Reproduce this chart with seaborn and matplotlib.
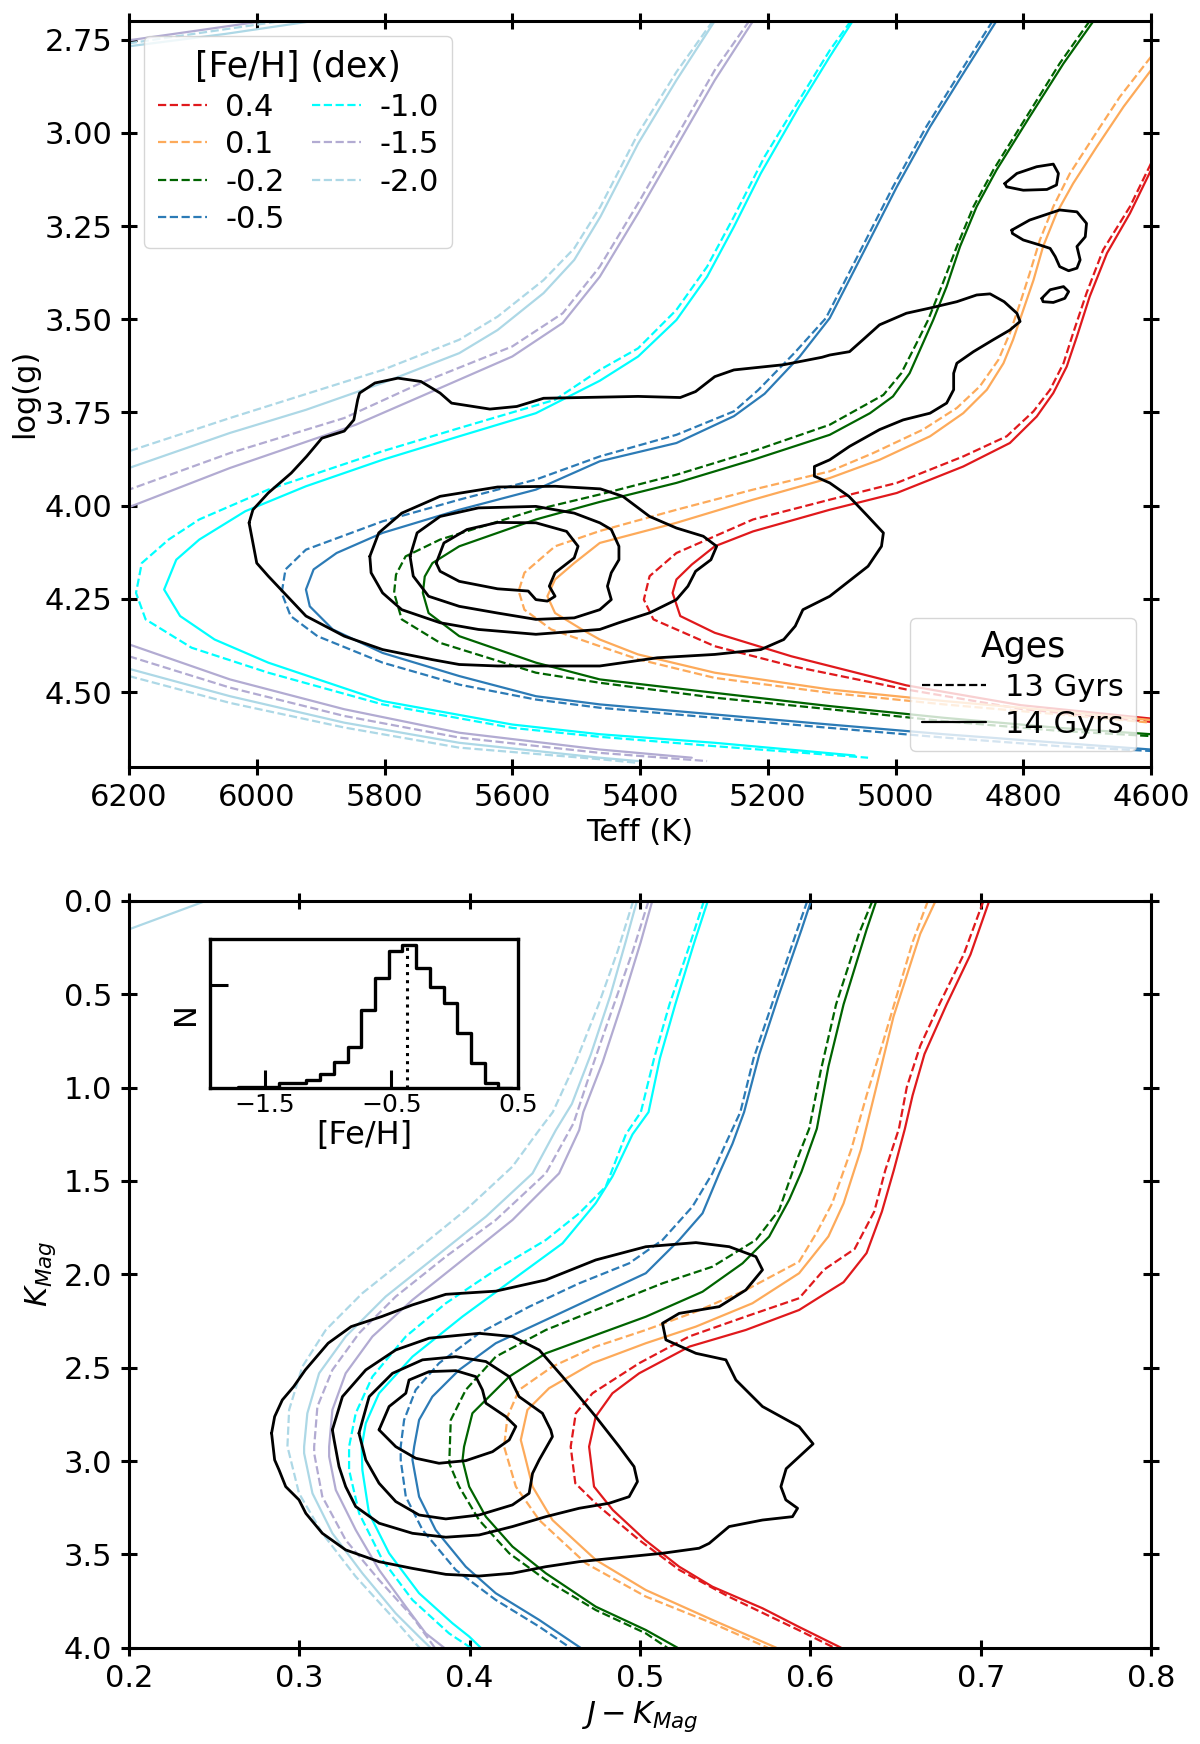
import matplotlib
matplotlib.use("Agg")
import matplotlib.pyplot as plt
from matplotlib.lines import Line2D
from matplotlib.ticker import FormatStrFormatter
import numpy as np
import seaborn as sns

# metallicity grid and colours of the isochrones
FEH_LABELS = ["0.4", "0.1", "-0.2", "-0.5", "-1.0", "-1.5", "-2.0"]
FEH_COLORS = ["#e0191c", "#fdaa5a", "darkgreen", "#2c7bb6", "cyan", "#b2abd2", "lightblue"]
AGE_LABELS = ["13 Gyrs", "14 Gyrs"]

# ---- top panel: isochrones in (Teff, logg) ----
TOP_P04_14 = [(4600, 3.10), (4633, 3.216), (4669, 3.323), (4696, 3.439), (4716, 3.546), (4732, 3.627),
              (4753, 3.698), (4779, 3.761), (4821, 3.832), (4894, 3.895), (4998, 3.966), (5103, 4.011),
              (5223, 4.069), (5283, 4.109), (5319, 4.158), (5343, 4.198), (5349, 4.234), (5337, 4.296),
              (5283, 4.341), (5163, 4.404), (4983, 4.482), (4804, 4.535), (4600, 4.571)]
TOP_P04_13 = [(4600, 3.082), (4633, 3.198), (4675, 3.314), (4701, 3.43), (4722, 3.5375), (4737, 3.618),
              (4758, 3.689), (4784, 3.747), (4826, 3.814), (4894, 3.868), (4998, 3.939), (5103, 3.984),
              (5223, 4.037), (5283, 4.082), (5343, 4.127), (5385, 4.189), (5394, 4.252), (5379, 4.305),
              (5283, 4.377), (5163, 4.43), (4983, 4.493), (4804, 4.545), (4600, 4.58)]
TOP_P01_14 = [(4600, 2.832), (4643, 2.93), (4685, 3.0375), (4722, 3.136), (4748, 3.216), (4769, 3.305),
              (4784, 3.395), (4800, 3.475), (4816, 3.555), (4831, 3.618), (4857, 3.689), (4894, 3.752),
              (4946, 3.814), (5025, 3.877), (5103, 3.926), (5223, 3.984), (5343, 4.046), (5463, 4.10),
              (5503, 4.154), (5533, 4.198), (5545, 4.243), (5533, 4.288), (5491, 4.332), (5463, 4.359),
              (5403, 4.399), (5283, 4.448), (5103, 4.493), (4924, 4.524), (4744, 4.551), (4600, 4.575)]
TOP_P01_13 = [(4600, 2.796), (4649, 2.904), (4690, 3.011), (4727, 3.109), (4753, 3.198), (4774, 3.2875),
              (4790, 3.377), (4805, 3.457), (4821, 3.5375), (4839, 3.609), (4868, 3.68), (4904, 3.738),
              (4957, 3.796), (5035, 3.859), (5103, 3.908), (5223, 3.957), (5343, 4.011), (5463, 4.068),
              (5533, 4.109), (5581, 4.18), (5590, 4.229), (5581, 4.279), (5539, 4.332), (5463, 4.377),
              (5403, 4.412), (5283, 4.462), (5103, 4.502), (4924, 4.533), (4744, 4.56), (4600, 4.582)]
TOP_M02_14 = [(4690, 2.70), (4737, 2.814), (4790, 2.957), (4842, 3.10), (4873, 3.198), (4899, 3.305),
              (4920, 3.4125), (4941, 3.502), (4957, 3.564), (4978, 3.645), (5004, 3.707), (5040, 3.752),
              (5103, 3.81), (5223, 3.877), (5343, 3.939), (5463, 3.99), (5563, 4.037), (5683, 4.109),
              (5725, 4.154), (5737, 4.19), (5740, 4.234), (5731, 4.288), (5683, 4.35), (5563, 4.421),
              (5463, 4.466), (5283, 4.502), (5103, 4.5375), (4924, 4.569), (4744, 4.596), (4600, 4.613)]
TOP_M02_13 = [(4696, 2.70), (4743, 2.814), (4795, 2.957), (4847, 3.10), (4878, 3.198), (4904, 3.305),
              (4928, 3.4125), (4949, 3.502), (4967, 3.564), (4991, 3.645), (5019, 3.703), (5061, 3.743),
              (5103, 3.783), (5223, 3.854), (5343, 3.917), (5463, 3.97), (5563, 4.011), (5713, 4.091),
              (5767, 4.136), (5782, 4.185), (5785, 4.234), (5773, 4.305), (5713, 4.368), (5563, 4.448),
              (5463, 4.475), (5283, 4.515), (5103, 4.546), (4924, 4.578), (4744, 4.604), (4600, 4.618)]
TOP_M05_14 = [(4842, 2.70), (4894, 2.841), (4946, 2.984), (4998, 3.145), (5051, 3.323), (5103, 3.497),
              (5150, 3.60), (5205, 3.70), (5253, 3.76), (5343, 3.832), (5463, 3.881), (5563, 3.957),
              (5683, 4.011), (5803, 4.073), (5875, 4.127), (5911, 4.171), (5923, 4.225), (5917, 4.27),
              (5881, 4.332), (5803, 4.395), (5683, 4.457), (5563, 4.511), (5463, 4.533), (5283, 4.56),
              (5103, 4.587), (4924, 4.613), (4744, 4.636), (4600, 4.654)]
TOP_M05_13 = [(4848, 2.70), (4900, 2.841), (4952, 2.984), (5004, 3.145), (5057, 3.323), (5109, 3.497),
              (5158, 3.59), (5215, 3.69), (5253, 3.747), (5343, 3.81), (5463, 3.868), (5563, 3.93),
              (5683, 3.984), (5803, 4.042), (5923, 4.118), (5955, 4.171), (5961, 4.234), (5947, 4.296),
              (5905, 4.35), (5803, 4.421), (5683, 4.48), (5563, 4.52), (5463, 4.542), (5283, 4.569),
              (5103, 4.596), (4924, 4.622), (4744, 4.645), (4600, 4.658)]
TOP_M10_14 = [(5067, 2.70), (5103, 2.796), (5151, 2.93), (5211, 3.109), (5253, 3.252), (5295, 3.386),
              (5343, 3.502), (5403, 3.60), (5463, 3.665), (5563, 3.752), (5683, 3.814), (5803, 3.877),
              (5923, 3.948), (6018, 4.015), (6090, 4.091), (6126, 4.145), (6145, 4.225), (6120, 4.296),
              (6066, 4.359), (5982, 4.421), (5803, 4.524), (5600, 4.587), (5463, 4.613), (5283, 4.636),
              (5064, 4.67)]
TOP_M10_13 = [(5070, 2.70), (5103, 2.779), (5151, 2.9125), (5205, 3.064), (5253, 3.225), (5295, 3.359),
              (5343, 3.475), (5403, 3.578), (5463, 3.636), (5533, 3.716), (5683, 3.792), (5803, 3.854),
              (5982, 3.957), (6090, 4.037), (6138, 4.091), (6180, 4.154), (6189, 4.234), (6174, 4.305),
              (6102, 4.381), (5982, 4.448), (5803, 4.533), (5600, 4.596), (5463, 4.62), (5283, 4.645),
              (5043, 4.676)]
# the metal-poor turnoffs lie beyond 6200 K, so the two branches are kept apart
TOP_M15_14_UP = [(5223, 2.70), (5283, 2.859), (5343, 3.0375), (5403, 3.216), (5463, 3.386), (5521, 3.51),
                 (5600, 3.60), (5743, 3.707), (5845, 3.783), (6042, 3.899), (6200, 4.004)]
TOP_M15_14_LO = [(6200, 4.372), (6042, 4.466), (5863, 4.546), (5683, 4.609), (5463, 4.654), (5319, 4.676)]
TOP_M15_13_UP = [(5229, 2.70), (5283, 2.832), (5343, 3.011), (5403, 3.189), (5463, 3.359), (5521, 3.484),
                 (5600, 3.573), (5743, 3.671), (5863, 3.765), (6042, 3.859), (6200, 3.957)]
TOP_M15_13_LO = [(6200, 4.404), (6042, 4.488), (5863, 4.564), (5683, 4.622), (5463, 4.663), (5295, 4.685)]
TOP_M20_14_UP = [(5283, 2.70), (5343, 2.859), (5403, 3.029), (5462, 3.225), (5503, 3.341), (5551, 3.43),
                 (5623, 3.529), (5683, 3.591), (5803, 3.671), (5923, 3.743), (6042, 3.805), (6200, 3.899)]
TOP_M20_14_LO = [(6200, 4.4375), (6042, 4.511), (5863, 4.582), (5683, 4.636), (5463, 4.676), (5403, 4.685)]
TOP_M20_13_UP = [(5286, 2.70), (5343, 2.837), (5403, 3.002), (5462, 3.198), (5503, 3.31), (5551, 3.395),
                 (5623, 3.493), (5683, 3.555), (5803, 3.636), (6042, 3.765), (6200, 3.854)]
TOP_M20_13_LO = [(6200, 4.457), (6042, 4.529), (5863, 4.595), (5683, 4.649), (5463, 4.68), (5403, 4.69)]
# giant-branch tips re-entering at the top left corner
TOP_TIP_M20_14 = [(6200, 2.768), (6050, 2.735), (5911, 2.70)]
TOP_TIP_M20_13 = [(6200, 2.760), (5960, 2.70)]
TOP_TIP_M15_14 = [(6200, 2.752), (6000, 2.703)]

# ---- top panel: density contours of the sample ----
TOP_C1 = [(6012, 4.046), (6006, 4.011), (5982, 3.966), (5946, 3.9125), (5922, 3.868), (5898, 3.819),
          (5863, 3.80), (5848, 3.77), (5842, 3.716), (5839, 3.698), (5815, 3.671), (5779, 3.658),
          (5743, 3.667), (5713, 3.698), (5695, 3.725), (5635, 3.741), (5593, 3.734), (5551, 3.712),
          (5462, 3.709), (5403, 3.707), (5337, 3.71), (5313, 3.694), (5283, 3.654), (5253, 3.636),
          (5175, 3.622), (5115, 3.602), (5103, 3.596), (5072, 3.587), (5051, 3.555), (5025, 3.515),
          (4983, 3.484), (4946, 3.47), (4904, 3.453), (4873, 3.435), (4852, 3.432), (4830, 3.453),
          (4810, 3.484), (4805, 3.506), (4821, 3.529), (4847, 3.555), (4878, 3.587), (4904, 3.618),
          (4909, 3.645), (4909, 3.689), (4920, 3.725), (4946, 3.752), (4988, 3.77), (5025, 3.796),
          (5072, 3.841), (5103, 3.877), (5127, 3.895), (5127, 3.921), (5103, 3.939), (5073, 3.975),
          (5043, 4.029), (5019, 4.073), (5022, 4.109), (5043, 4.1625), (5103, 4.243), (5145, 4.279),
          (5157, 4.323), (5175, 4.359), (5211, 4.386), (5283, 4.399), (5373, 4.408), (5463, 4.43),
          (5563, 4.43), (5623, 4.43), (5683, 4.426), (5725, 4.413), (5803, 4.386), (5863, 4.35),
          (5923, 4.296), (5982, 4.189), (6000, 4.154), (6006, 4.10), (6012, 4.046)]
TOP_C2 = [(5823, 4.136), (5809, 4.073), (5773, 4.02), (5713, 3.975), (5623, 3.95), (5533, 3.948),
          (5462, 3.955), (5427, 3.975), (5385, 4.029), (5343, 4.06), (5301, 4.082), (5280, 4.109),
          (5289, 4.145), (5313, 4.176), (5325, 4.216), (5343, 4.252), (5385, 4.2875), (5433, 4.314),
          (5463, 4.332), (5563, 4.345), (5653, 4.332), (5713, 4.314), (5773, 4.279), (5803, 4.234),
          (5821, 4.18), (5823, 4.136)]
TOP_C3 = [(5760, 4.136), (5749, 4.073), (5713, 4.029), (5653, 4.006), (5563, 4.002), (5503, 4.02),
          (5463, 4.046), (5445, 4.064), (5433, 4.109), (5433, 4.145), (5445, 4.18), (5451, 4.216),
          (5445, 4.252), (5463, 4.279), (5503, 4.301), (5563, 4.305), (5623, 4.288), (5683, 4.27),
          (5731, 4.243), (5755, 4.189), (5760, 4.136)]
TOP_C4 = [(5719, 4.154), (5707, 4.10), (5671, 4.064), (5623, 4.045), (5563, 4.046), (5515, 4.069),
          (5497, 4.109), (5503, 4.14), (5533, 4.18), (5542, 4.216), (5533, 4.243), (5545, 4.256),
          (5563, 4.252), (5575, 4.229), (5623, 4.223), (5683, 4.203), (5713, 4.176), (5719, 4.154)]
TOP_C5 = [(4829, 3.136), (4810, 3.109), (4779, 3.091), (4753, 3.084), (4745, 3.109), (4748, 3.14),
          (4763, 3.152), (4800, 3.154), (4826, 3.145), (4829, 3.136)]
TOP_C6 = [(4818, 3.261), (4790, 3.234), (4743, 3.207), (4716, 3.212), (4701, 3.243), (4703, 3.279),
          (4716, 3.305), (4711, 3.341), (4716, 3.363), (4729, 3.37), (4743, 3.359), (4750, 3.332),
          (4758, 3.31), (4774, 3.301), (4800, 3.2875), (4817, 3.27), (4818, 3.261)]
TOP_C7 = [(4771, 3.444), (4758, 3.421), (4737, 3.4125), (4729, 3.426), (4735, 3.444), (4753, 3.455),
          (4769, 3.453), (4771, 3.444)]

# ---- bottom panel: isochrones in (J-K, K) ----
BOT_P04_14 = [(0.705, 0.0), (0.694, 0.287), (0.680, 0.554), (0.667, 0.820), (0.660, 1.042), (0.6555, 1.22),
              (0.649, 1.442), (0.642, 1.664), (0.633, 1.886), (0.6195, 2.042), (0.604, 2.13), (0.5934, 2.191),
              (0.5621, 2.298), (0.529, 2.387), (0.4995, 2.53), (0.4838, 2.637), (0.474, 2.762), (0.4701, 2.923),
              (0.473, 3.137), (0.484, 3.262), (0.503, 3.423), (0.523, 3.566), (0.5425, 3.673), (0.572, 3.789),
              (0.593, 3.887), (0.618, 4.0)]
BOT_P04_13 = [(0.7016, 0.0), (0.690, 0.287), (0.6757, 0.554), (0.6645, 0.776), (0.6566, 0.998), (0.652, 1.22),
              (0.644, 1.442), (0.6375, 1.664), (0.626, 1.864), (0.608, 1.975), (0.5934, 2.128), (0.5621, 2.226),
              (0.5288, 2.333), (0.4995, 2.476), (0.4721, 2.637), (0.4623, 2.744), (0.4593, 2.923), (0.462, 3.119),
              (0.476, 3.244), (0.4995, 3.423), (0.523, 3.583), (0.552, 3.726), (0.593, 3.905), (0.614, 4.0)]
BOT_P01_14 = [(0.6735, 0.0), (0.6645, 0.176), (0.6488, 0.62), (0.6375, 1.042), (0.6297, 1.331), (0.6195, 1.62),
              (0.6106, 1.797), (0.5934, 1.994), (0.566, 2.155), (0.5328, 2.28), (0.5034, 2.369), (0.4721, 2.476),
              (0.4466, 2.61), (0.4339, 2.726), (0.430, 2.887), (0.432, 2.958), (0.4369, 3.137), (0.4486, 3.316),
              (0.4741, 3.53), (0.5034, 3.691), (0.5425, 3.851), (0.580, 4.0)]
BOT_P01_13 = [(0.669, 0.0), (0.660, 0.221), (0.642, 0.776), (0.633, 1.042), (0.624, 1.331), (0.6128, 1.62),
              (0.6038, 1.775), (0.5934, 1.932), (0.5621, 2.084), (0.5328, 2.2), (0.5034, 2.298), (0.474, 2.387),
              (0.4486, 2.494), (0.429, 2.619), (0.4222, 2.762), (0.4202, 2.923), (0.4271, 3.137), (0.4408, 3.316),
              (0.4682, 3.548), (0.5034, 3.726), (0.5425, 3.869), (0.575, 4.0)]
BOT_M02_14 = [(0.6387, 0.0), (0.633, 0.154), (0.6195, 0.554), (0.6106, 0.887), (0.6038, 1.22), (0.5948, 1.45),
              (0.5876, 1.60), (0.5758, 1.798), (0.5602, 1.941), (0.5367, 2.093), (0.5034, 2.227), (0.474, 2.325),
              (0.4447, 2.423), (0.4232, 2.548), (0.4016, 2.744), (0.3967, 2.923), (0.3958, 2.994), (0.3997, 3.137),
              (0.4095, 3.298), (0.4251, 3.458), (0.4447, 3.601), (0.474, 3.78), (0.5034, 3.905), (0.522, 4.0)]
BOT_M02_13 = [(0.6364, 0.0), (0.6285, 0.176), (0.6151, 0.554), (0.6061, 0.909), (0.5993, 1.22), (0.5915, 1.40),
              (0.5817, 1.655), (0.568, 1.816), (0.5425, 1.959), (0.5132, 2.048), (0.4838, 2.155), (0.4447, 2.298),
              (0.4153, 2.441), (0.3977, 2.619), (0.3889, 2.78), (0.388, 3.012), (0.3938, 3.137), (0.4055, 3.316),
              (0.4232, 3.494), (0.4447, 3.637), (0.474, 3.798), (0.5034, 3.923), (0.516, 4.0)]
BOT_M05_14 = [(0.6004, 0.0), (0.5948, 0.154), (0.5813, 0.509), (0.5701, 0.82), (0.5611, 1.131), (0.5543, 1.30),
              (0.5465, 1.459), (0.5367, 1.673), (0.523, 1.816), (0.5034, 1.994), (0.474, 2.119), (0.4447, 2.244),
              (0.4153, 2.369), (0.3938, 2.512), (0.3781, 2.655), (0.3703, 2.78), (0.3674, 2.923), (0.3664, 2.994),
              (0.3703, 3.191), (0.380, 3.369), (0.3977, 3.566), (0.4153, 3.708), (0.4408, 3.851), (0.465, 4.0)]
BOT_M05_13 = [(0.5982, 0.0), (0.5915, 0.176), (0.5791, 0.509), (0.5667, 0.842), (0.5589, 1.131), (0.5504, 1.298),
              (0.5425, 1.459), (0.5308, 1.637), (0.5132, 1.816), (0.4936, 1.941), (0.4643, 2.048), (0.435, 2.173),
              (0.4055, 2.316), (0.382, 2.476), (0.3683, 2.619), (0.3615, 2.78), (0.3595, 2.923), (0.3595, 2.994),
              (0.3625, 3.191), (0.3723, 3.369), (0.3918, 3.583), (0.4153, 3.744), (0.4408, 3.887), (0.459, 4.0)]
BOT_M10_14 = [(0.5398, 0.0), (0.5319, 0.221), (0.5207, 0.554), (0.5117, 0.842), (0.505, 1.131), (0.4956, 1.25),
              (0.4838, 1.476), (0.474, 1.619), (0.4545, 1.834), (0.4251, 2.03), (0.3958, 2.226), (0.3664, 2.441),
              (0.3468, 2.637), (0.339, 2.798), (0.3366, 2.923), (0.337, 3.048), (0.3409, 3.28), (0.3527, 3.494),
              (0.3703, 3.708), (0.3899, 3.869), (0.3997, 3.94), (0.4065, 4.0)]
BOT_M10_13 = [(0.5375, 0.0), (0.5297, 0.221), (0.5173, 0.554), (0.5083, 0.842), (0.5005, 1.131), (0.4917, 1.25),
              (0.4799, 1.53), (0.4643, 1.673), (0.4447, 1.816), (0.4153, 1.976), (0.386, 2.155), (0.3625, 2.333),
              (0.3429, 2.548), (0.3331, 2.744), (0.3292, 2.923), (0.3292, 3.048), (0.3351, 3.28), (0.3488, 3.53),
              (0.3664, 3.744), (0.3879, 3.923), (0.4006, 4.0)]
BOT_M15_14 = [(0.5072, 0.0), (0.5004, 0.221), (0.4892, 0.554), (0.478, 0.865), (0.4667, 1.131), (0.4643, 1.227),
              (0.4525, 1.459), (0.4251, 1.709), (0.3958, 1.923), (0.3664, 2.137), (0.3429, 2.333), (0.3272, 2.53),
              (0.3194, 2.726), (0.3175, 2.923), (0.3175, 2.976), (0.3214, 3.155), (0.3331, 3.369), (0.3468, 3.583),
              (0.3625, 3.78), (0.3742, 3.923), (0.385, 4.0)]
BOT_M15_13 = [(0.505, 0.0), (0.4959, 0.265), (0.4847, 0.554), (0.4712, 0.909), (0.461, 1.19), (0.4447, 1.459),
              (0.4153, 1.709), (0.386, 1.905), (0.3566, 2.119), (0.3351, 2.315), (0.3194, 2.512), (0.3106, 2.708),
              (0.3087, 2.923), (0.3087, 2.958), (0.3135, 3.191), (0.3272, 3.423), (0.3468, 3.637), (0.3664, 3.834),
              (0.3795, 4.0)]
BOT_M20_14 = [(0.4982, 0.0), (0.4915, 0.221), (0.4825, 0.509), (0.4712, 0.82), (0.460, 1.087), (0.4506, 1.227),
              (0.4369, 1.459), (0.4095, 1.691), (0.3801, 1.905), (0.3507, 2.119), (0.3272, 2.333), (0.3116, 2.53),
              (0.3047, 2.744), (0.3028, 2.923), (0.3028, 2.958), (0.3077, 3.173), (0.3194, 3.387), (0.337, 3.601),
              (0.3566, 3.816), (0.3703, 3.941), (0.377, 4.0)]
BOT_M20_13 = [(0.496, 0.0), (0.487, 0.265), (0.4757, 0.554), (0.4622, 0.865), (0.4488, 1.131), (0.4408, 1.227),
              (0.4251, 1.423), (0.3977, 1.655), (0.3664, 1.887), (0.337, 2.101), (0.3155, 2.298), (0.3018, 2.494),
              (0.294, 2.726), (0.293, 2.923), (0.294, 2.958), (0.2998, 3.173), (0.3135, 3.387), (0.3331, 3.619),
              (0.3527, 3.816), (0.3705, 4.0)]
BOT_TIP_M20_14 = [(0.2, 0.152), (0.245, 0.0)]

# ---- bottom panel: density contours ----
BOT_C1 = [(0.2837, 2.851), (0.2855, 2.762), (0.290, 2.673), (0.2967, 2.601), (0.3035, 2.512), (0.3169, 2.369),
          (0.3304, 2.28), (0.3484, 2.226), (0.3663, 2.164), (0.386, 2.107), (0.4153, 2.09), (0.4447, 2.03),
          (0.474, 1.923), (0.5034, 1.852), (0.5328, 1.83), (0.5524, 1.852), (0.568, 1.905), (0.5719, 1.976),
          (0.5621, 2.084), (0.5465, 2.173), (0.523, 2.209), (0.5132, 2.262), (0.5152, 2.351), (0.5328, 2.423),
          (0.5504, 2.458), (0.5563, 2.566), (0.5719, 2.708), (0.5934, 2.816), (0.6016, 2.908), (0.5858, 3.041),
          (0.5827, 3.137), (0.5856, 3.208), (0.5925, 3.253), (0.5895, 3.298), (0.5719, 3.316), (0.5523, 3.351),
          (0.5406, 3.441), (0.5347, 3.467), (0.5132, 3.494), (0.4838, 3.521), (0.4643, 3.539), (0.4447, 3.566),
          (0.4251, 3.601), (0.4055, 3.616), (0.386, 3.607), (0.3664, 3.575), (0.3468, 3.539), (0.3272, 3.476),
          (0.3135, 3.387), (0.3038, 3.28), (0.2998, 3.208), (0.292, 3.137), (0.2881, 3.048), (0.2855, 2.994),
          (0.2837, 2.851)]
BOT_C2 = [(0.3194, 2.833), (0.3253, 2.655), (0.339, 2.512), (0.3566, 2.405), (0.3762, 2.342), (0.4055, 2.316),
          (0.4251, 2.333), (0.4408, 2.405), (0.4545, 2.548), (0.4643, 2.655), (0.474, 2.762), (0.4878, 2.923),
          (0.4965, 3.03), (0.4985, 3.11), (0.4936, 3.191), (0.4819, 3.226), (0.4643, 3.253), (0.4447, 3.298),
          (0.4251, 3.351), (0.4055, 3.396), (0.386, 3.408), (0.3664, 3.387), (0.3468, 3.333), (0.3331, 3.244),
          (0.3272, 3.137), (0.3233, 3.03), (0.3204, 2.887), (0.3194, 2.833)]
BOT_C3 = [(0.335, 2.851), (0.341, 2.655), (0.3547, 2.53), (0.3723, 2.458), (0.3919, 2.441), (0.4095, 2.467),
          (0.4232, 2.548), (0.429, 2.655), (0.4427, 2.744), (0.4476, 2.834), (0.4486, 2.869), (0.4408, 2.994),
          (0.4369, 3.066), (0.4349, 3.173), (0.4251, 3.235), (0.4055, 3.289), (0.386, 3.31), (0.3703, 3.289),
          (0.3566, 3.217), (0.3468, 3.119), (0.339, 2.994), (0.335, 2.851)]
BOT_C4 = [(0.3468, 2.833), (0.3527, 2.708), (0.3625, 2.637), (0.3644, 2.566), (0.3762, 2.521), (0.3919, 2.516),
          (0.4036, 2.548), (0.4075, 2.619), (0.4095, 2.69), (0.4212, 2.762), (0.4271, 2.815), (0.4232, 2.887),
          (0.4134, 2.95), (0.3977, 2.998), (0.382, 3.012), (0.3683, 2.985), (0.3566, 2.923), (0.3468, 2.833)]

# ---- inset: [Fe/H] distribution ----
FEH_EDGES = [-1.71, -1.602, -1.494, -1.386, -1.278, -1.170, -1.062, -0.954, -0.846, -0.738, -0.630,
             -0.522, -0.414, -0.306, -0.198, -0.090, 0.018, 0.126, 0.234, 0.342, 0.450]
FEH_COUNTS = [3, 3, 3, 10, 10, 16, 27, 52, 81, 152, 214, 267, 278, 233, 197, 165, 107, 49, 10, 0]
FEH_MEDIAN = -0.38


sns.set_style("ticks", rc={"axes.edgecolor": "black", "xtick.color": "black", "ytick.color": "black",
                           "text.color": "black", "axes.labelcolor": "black"})
plt.rcParams["font.family"] = ["DejaVu Sans"]
plt.rcParams["mathtext.fontset"] = "dejavusans"


def draw(ax, pts, color, ls="-", lw=1.6, z=2):
    xs = [p[0] for p in pts]
    ys = [p[1] for p in pts]
    sns.lineplot(x=xs, y=ys, sort=False, estimator=None, color=color, linestyle=ls,
                 linewidth=lw, legend=False, ax=ax, zorder=z)


def style_axes(ax):
    for side in ["top", "bottom", "left", "right"]:
        ax.spines[side].set_visible(True)
        ax.spines[side].set_linewidth(2.2)
    ax.tick_params(direction="inout", length=12, width=2.2, top=True, right=True,
                   labelsize=22, pad=6)


fig = plt.figure(figsize=(12, 17.44), dpi=100)
ax_top = fig.add_axes([0.1075, 0.5604, 0.8517, 0.4276])
ax_bot = fig.add_axes([0.1075, 0.0552, 0.8517, 0.4282])

# top panel
top_13 = [TOP_P04_13, TOP_P01_13, TOP_M02_13, TOP_M05_13, TOP_M10_13]
top_14 = [TOP_P04_14, TOP_P01_14, TOP_M02_14, TOP_M05_14, TOP_M10_14]
for i in range(5):
    draw(ax_top, top_13[i], FEH_COLORS[i], "--")
    draw(ax_top, top_14[i], FEH_COLORS[i], "-")
for pts in [TOP_M15_13_UP, TOP_M15_13_LO]:
    draw(ax_top, pts, FEH_COLORS[5], "--")
for pts in [TOP_M15_14_UP, TOP_M15_14_LO, TOP_TIP_M15_14]:
    draw(ax_top, pts, FEH_COLORS[5], "-")
for pts in [TOP_M20_13_UP, TOP_M20_13_LO, TOP_TIP_M20_13]:
    draw(ax_top, pts, FEH_COLORS[6], "--")
for pts in [TOP_M20_14_UP, TOP_M20_14_LO, TOP_TIP_M20_14]:
    draw(ax_top, pts, FEH_COLORS[6], "-")
for pts in [TOP_C1, TOP_C2, TOP_C3, TOP_C4, TOP_C5, TOP_C6, TOP_C7]:
    draw(ax_top, pts, "black", "-", lw=2.0, z=3)

ax_top.set_xlim(6200, 4600)
ax_top.set_ylim(4.70, 2.70)
ax_top.set_xticks(np.arange(6200, 4599, -200))
ax_top.set_yticks([2.75, 3.00, 3.25, 3.50, 3.75, 4.00, 4.25, 4.50])
ax_top.yaxis.set_major_formatter(FormatStrFormatter("%.2f"))
ax_top.set_xlabel("Teff (K)", fontsize=22)
ax_top.set_ylabel("log(g)", fontsize=22)
style_axes(ax_top)

feh_handles = [Line2D([], [], color=c, ls="--", lw=1.6) for c in FEH_COLORS]
leg1 = ax_top.legend(feh_handles, FEH_LABELS, title="[Fe/H] (dex)", ncol=2, loc="upper left",
                     fontsize=22, title_fontsize=25, handlelength=1.6, handletextpad=0.6,
                     columnspacing=0.9, labelspacing=0.28, borderpad=0.45, framealpha=0.8,
                     edgecolor="0.8", fancybox=True)
ax_top.add_artist(leg1)
age_handles = [Line2D([], [], color="black", ls="--", lw=1.6), Line2D([], [], color="black", ls="-", lw=1.6)]
ax_top.legend(age_handles, AGE_LABELS, title="Ages", loc="lower right", fontsize=22, title_fontsize=25,
              handlelength=2.1, handletextpad=0.6, labelspacing=0.28, borderpad=0.4, framealpha=0.8,
              edgecolor="0.8", fancybox=True)

# bottom panel
bot_13 = [BOT_P04_13, BOT_P01_13, BOT_M02_13, BOT_M05_13, BOT_M10_13, BOT_M15_13, BOT_M20_13]
bot_14 = [BOT_P04_14, BOT_P01_14, BOT_M02_14, BOT_M05_14, BOT_M10_14, BOT_M15_14, BOT_M20_14]
for i in range(7):
    draw(ax_bot, bot_13[i], FEH_COLORS[i], "--")
    draw(ax_bot, bot_14[i], FEH_COLORS[i], "-")
draw(ax_bot, BOT_TIP_M20_14, FEH_COLORS[6], "-")
for pts in [BOT_C1, BOT_C2, BOT_C3, BOT_C4]:
    draw(ax_bot, pts, "black", "-", lw=2.0, z=3)

ax_bot.set_xlim(0.2, 0.8)
ax_bot.set_ylim(4.0, 0.0)
ax_bot.set_xticks([0.2, 0.3, 0.4, 0.5, 0.6, 0.7, 0.8])
ax_bot.set_yticks([0.0, 0.5, 1.0, 1.5, 2.0, 2.5, 3.0, 3.5, 4.0])
ax_bot.xaxis.set_major_formatter(FormatStrFormatter("%.1f"))
ax_bot.yaxis.set_major_formatter(FormatStrFormatter("%.1f"))
ax_bot.set_xlabel("$J - K_{Mag}$", fontsize=22)
ax_bot.set_ylabel("$K_{Mag}$", fontsize=22)
style_axes(ax_bot)

# inset histogram
ax_in = fig.add_axes([0.175, 0.376, 0.257, 0.0855])
centers = [(a + b) / 2 for a, b in zip(FEH_EDGES[:-1], FEH_EDGES[1:])]
sns.histplot(x=centers, weights=FEH_COUNTS, bins=FEH_EDGES, element="step", fill=False,
             color="black", linewidth=2.4, ax=ax_in)
ax_in.vlines(FEH_MEDIAN, 0, max(FEH_COUNTS), colors="black", linestyles=":", linewidth=2.2)
ax_in.set_xlim(-1.93, 0.5)
ax_in.set_ylim(0, 290)
ax_in.set_xticks([-1.5, -0.5, 0.5])
ax_in.set_yticks([200])
ax_in.set_yticklabels([])
for side in ["top", "bottom", "left", "right"]:
    ax_in.spines[side].set_visible(True)
    ax_in.spines[side].set_linewidth(2.4)
ax_in.tick_params(direction="in", length=13, width=2.2, labelsize=18, top=False, right=False)
ax_in.set_xlabel("[Fe/H]", fontsize=23, labelpad=2)
ax_in.set_ylabel("N", fontsize=22, labelpad=4)

fig.savefig("out.png", dpi=100)
